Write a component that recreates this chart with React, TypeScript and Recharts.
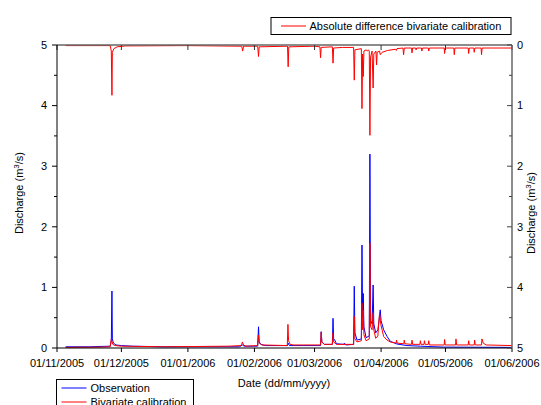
import { ComposedChart, Line, XAxis, YAxis } from 'recharts'

// x = days since 01/11/2005
const monthTicks = [0, 30, 61, 92, 120, 151, 181, 212]
const monthLabels = ['01/11/2005', '01/12/2005', '01/01/2006', '01/02/2006', '01/03/2006', '01/04/2006', '01/05/2006', '01/06/2006']
const dischargeTicks = [0, 0.5, 1, 1.5, 2, 2.5, 3, 3.5, 4, 4.5, 5]

const observationDays = [4, 15, 24.8, 25.3, 25.6, 25.8, 26.3, 27.5, 30, 35, 50, 70, 85, 86.4, 87.2, 93.5, 93.9, 94.2, 95, 97, 107.4, 107.7, 108.3, 115, 122.8, 123.1, 123.4, 124.5, 128.3, 128.6, 128.9, 129.3, 130.2, 133.6, 133.9, 134.6, 138.2, 138.5, 138.8, 139.8, 141.8, 142.1, 142.4, 142.7, 143.0, 144, 145.5, 145.8, 146.1, 146.8, 147.3, 147.6, 148.5, 149.5, 150.2, 150.6, 151.0, 152.2, 153.8, 155.3, 158.4, 163.1, 169.3, 180, 212]
const observationValues = [0.02, 0.02, 0.03, 0.12, 0.94, 0.15, 0.08, 0.05, 0.04, 0.03, 0.02, 0.02, 0.02, 0.05, 0.03, 0.03, 0.35, 0.1, 0.06, 0.04, 0.04, 0.08, 0.04, 0.04, 0.04, 0.27, 0.1, 0.06, 0.06, 0.49, 0.15, 0.14, 0.07, 0.06, 0.08, 0.05, 0.06, 1.02, 0.25, 0.13, 0.15, 1.7, 0.5, 0.9, 0.35, 0.17, 0.2, 3.2, 0.45, 0.4, 1.04, 0.4, 0.25, 0.3, 0.5, 0.63, 0.45, 0.3, 0.19, 0.11, 0.066, 0.04, 0.03, 0.015, 0.01]

const bivariateDays = [4, 20, 24.8, 25.3, 25.6, 26.0, 27, 30, 50, 80, 85.9, 86.4, 86.9, 88, 93.5, 93.8, 94.2, 95.5, 107.3, 107.6, 107.9, 108.6, 110, 122.8, 123.1, 123.4, 124.5, 128.3, 128.6, 128.9, 130.2, 138.2, 138.5, 138.8, 139.8, 141.8, 142.1, 142.4, 142.7, 143.0, 144, 145.5, 145.8, 146.1, 146.8, 147.3, 147.6, 148.5, 149.5, 150.0, 150.3, 150.8, 152.2, 153.8, 155.3, 158.0, 158.2, 158.5, 161.6, 161.8, 162.1, 165.2, 165.4, 165.7, 169.1, 169.3, 169.6, 171.0, 171.2, 171.5, 173.0, 173.2, 173.5, 180.4, 180.6, 180.9, 185.7, 185.9, 186.2, 191.6, 191.8, 192.1, 194.4, 194.6, 194.9, 197.8, 198.0, 198.6, 200, 212]
const bivariateValues = [0.01, 0.015, 0.02, 0.15, 0.11, 0.06, 0.04, 0.03, 0.02, 0.03, 0.04, 0.1, 0.05, 0.03, 0.04, 0.21, 0.08, 0.05, 0.04, 0.39, 0.12, 0.06, 0.05, 0.05, 0.26, 0.1, 0.06, 0.06, 0.25, 0.1, 0.06, 0.06, 0.52, 0.15, 0.1, 0.12, 0.74, 0.3, 0.62, 0.22, 0.12, 0.15, 1.73, 0.35, 0.3, 0.58, 0.3, 0.16, 0.2, 0.45, 0.58, 0.4, 0.19, 0.13, 0.1, 0.08, 0.13, 0.08, 0.07, 0.13, 0.07, 0.06, 0.13, 0.06, 0.06, 0.12, 0.06, 0.06, 0.12, 0.06, 0.06, 0.12, 0.05, 0.05, 0.14, 0.05, 0.05, 0.15, 0.05, 0.05, 0.12, 0.05, 0.05, 0.13, 0.05, 0.05, 0.15, 0.08, 0.05, 0.04]

const differenceDays = [4, 24.8, 25.3, 25.6, 25.8, 26.5, 28, 32, 60, 86.1, 86.5, 86.9, 93.5, 93.9, 94.2, 107.4, 107.7, 108.0, 120, 122.5, 122.8, 123.1, 128.3, 128.6, 128.9, 133, 138.2, 138.5, 138.8, 141.8, 142.1, 142.4, 142.7, 143.0, 144, 144.6, 145.1, 145.5, 145.8, 146.1, 146.8, 147.3, 147.6, 148.6, 148.9, 149.2, 150.3, 150.6, 151.5, 154, 157.7, 158.1, 158.4, 161.2, 161.5, 161.8, 165.2, 165.4, 165.7, 167.1, 167.3, 167.6, 169.8, 170.0, 170.3, 173.0, 173.2, 173.5, 180.4, 180.6, 180.9, 184.9, 185.1, 185.4, 191.6, 191.8, 192.1, 194.2, 194.4, 194.7, 197.6, 197.8, 198.1, 212]
const differenceValues = [0.01, 0.01, 0.1, 0.83, 0.12, 0.06, 0.03, 0.015, 0.01, 0.02, 0.1, 0.02, 0.02, 0.19, 0.03, 0.02, 0.36, 0.03, 0.02, 0.03, 0.21, 0.04, 0.03, 0.3, 0.05, 0.04, 0.04, 0.58, 0.08, 0.06, 1.05, 0.15, 0.52, 0.1, 0.08, 0.1, 0.08, 0.1, 1.49, 0.2, 0.1, 0.71, 0.15, 0.1, 0.33, 0.12, 0.1, 0.16, 0.12, 0.09, 0.07, 0.09, 0.06, 0.05, 0.16, 0.05, 0.05, 0.13, 0.05, 0.05, 0.08, 0.05, 0.05, 0.1, 0.05, 0.05, 0.1, 0.05, 0.05, 0.14, 0.05, 0.05, 0.16, 0.05, 0.05, 0.14, 0.05, 0.05, 0.12, 0.05, 0.05, 0.16, 0.05, 0.05]

const font = '"Liberation Sans", Arial, sans-serif'

function buildRows() {
    const rows = new Map<number, any>()
    const put = (days: number[], values: number[], key: string) => {
        days.forEach((d, i) => {
            const row = rows.get(d) ?? { day: d }
            row[key] = values[i]
            rows.set(d, row)
        })
    }
    put(observationDays, observationValues, 'observation')
    put(bivariateDays, bivariateValues, 'bivariate')
    put(differenceDays, differenceValues, 'difference')
    return [...rows.values()].sort((a, b) => a.day - b.day)
}

const rows = buildRows()

// left axis: ticks drawn outward, labels only on whole numbers
const LeftTick = (props: any) => {
    const { x, y, payload } = props
    const axisX = x + 10
    const major = Number.isInteger(payload.value)
    return (
        <g>
            <line x1={axisX - (major ? 5 : 3)} x2={axisX} y1={y} y2={y} stroke="#000" />
            {major && (
                <text x={x} y={y} dy="0.35em" textAnchor="end" fontSize={11} fontFamily={font} fill="#000">
                    {payload.value}
                </text>
            )}
        </g>
    )
}

// right axis: ticks point inward, labels outside
const RightTick = (props: any) => {
    const { x, y, payload } = props
    const axisX = x - 5
    const major = Number.isInteger(payload.value)
    return (
        <g>
            <line x1={axisX - (major ? 5 : 3)} x2={axisX} y1={y} y2={y} stroke="#444" />
            {major && (
                <text x={x} y={y} dy="0.35em" textAnchor="start" fontSize={11} fontFamily={font} fill="#000">
                    {payload.value}
                </text>
            )}
        </g>
    )
}

export default function App() {
    return (
        <div style={{ position: 'absolute', left: 0, top: 0, width: 541, height: 405, overflow: 'hidden', background: '#fff' }}>
            <ComposedChart width={541} height={405} data={rows} margin={{ top: 45, right: 0, bottom: 0, left: 0 }}>
                <XAxis
                    xAxisId="bottom"
                    dataKey="day"
                    type="number"
                    domain={[0, 212]}
                    ticks={monthTicks}
                    interval={0}
                    height={57}
                    tickFormatter={(v: number) => monthLabels[monthTicks.indexOf(v)]}
                    axisLine={{ stroke: '#000' }}
                    tickLine={{ stroke: '#000' }}
                    tickSize={4}
                    tickMargin={7}
                    tick={{ fill: '#000', fontSize: 11, fontFamily: font }}
                />
                <XAxis
                    xAxisId="top"
                    orientation="top"
                    mirror
                    dataKey="day"
                    type="number"
                    domain={[0, 212]}
                    ticks={monthTicks}
                    interval={0}
                    tickSize={5}
                    axisLine={{ stroke: '#666', strokeWidth: 1.5 }}
                    tickLine={{ stroke: '#333' }}
                    tick={() => <g />}
                />
                <YAxis
                    yAxisId="left"
                    domain={[0, 5]}
                    ticks={dischargeTicks}
                    interval={0}
                    width={57}
                    axisLine={{ stroke: '#000' }}
                    tickLine={false}
                    tickSize={0}
                    tickMargin={10}
                    tick={LeftTick}
                />
                <YAxis
                    yAxisId="right"
                    orientation="right"
                    reversed
                    domain={[0, 5]}
                    ticks={dischargeTicks}
                    interval={0}
                    width={29}
                    axisLine={{ stroke: '#666', strokeWidth: 1.5 }}
                    tickLine={false}
                    tickSize={0}
                    tickMargin={5}
                    tick={RightTick}
                />
                <Line xAxisId="bottom" yAxisId="left" dataKey="observation" stroke="#0000ff" strokeWidth={1} dot={false} connectNulls isAnimationActive={false} />
                <Line xAxisId="bottom" yAxisId="left" dataKey="bivariate" stroke="#ff0000" strokeWidth={1} dot={false} connectNulls isAnimationActive={false} />
                <Line xAxisId="top" yAxisId="right" dataKey="difference" stroke="#ff0000" strokeWidth={1} dot={false} connectNulls isAnimationActive={false} />
            </ComposedChart>

            <svg width={541} height={405} style={{ position: 'absolute', left: 0, top: 0, pointerEvents: 'none' }} fontFamily={font} fontSize={11}>
                <text transform="translate(23,193) rotate(-90)" textAnchor="middle" fill="#000">
                    Discharge (m<tspan dy={-4} fontSize={8}>3</tspan><tspan dy={4}>/s)</tspan>
                </text>
                <text transform="translate(535,213) rotate(-90)" textAnchor="middle" fill="#000">
                    Discharge (m<tspan dy={-4} fontSize={8}>3</tspan><tspan dy={4}>/s)</tspan>
                </text>
                <text x={284} y={387} textAnchor="middle" fill="#000">Date (dd/mm/yyyy)</text>

                <rect x={271} y={17.5} width={240} height={17} fill="#fff" stroke="#000" />
                <line x1={281} x2={306} y1={26} y2={26} stroke="#ff0000" />
                <text x={309.5} y={30} fill="#000">Absolute difference bivariate calibration</text>

                <rect x={56.5} y={379.5} width={137} height={40} fill="#fff" stroke="#000" />
                <line x1={61.5} x2={86.5} y1={388} y2={388} stroke="#0000ff" />
                <text x={90.5} y={392} fill="#000">Observation</text>
                <line x1={61.5} x2={86.5} y1={402} y2={402} stroke="#ff0000" />
                <text x={90.5} y={406} fill="#000">Bivariate calibration</text>
            </svg>
        </div>
    )
}
